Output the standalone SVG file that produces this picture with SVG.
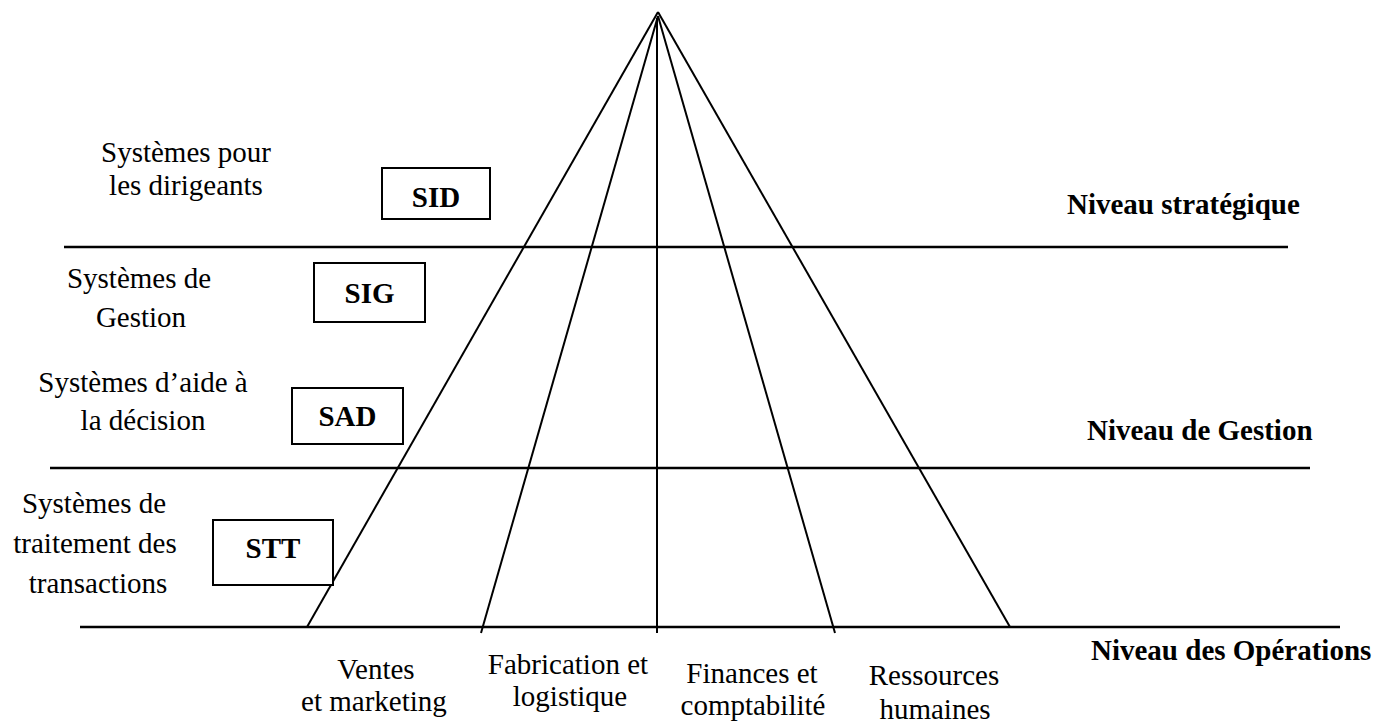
<svg xmlns="http://www.w3.org/2000/svg" width="1378" height="726" viewBox="0 0 1378 726">
<style>
.t{font-family:"Liberation Serif","Times New Roman",serif;font-size:29px;fill:#000;text-anchor:middle}
.b{font-family:"Liberation Serif","Times New Roman",serif;font-size:29px;font-weight:bold;fill:#000}
.bx{fill:#fff;stroke:#000;stroke-width:2}
.ln{stroke:#000;stroke-width:2;fill:none}
.hl{stroke:#000;stroke-width:2.5;fill:none}
</style>
<rect width="1378" height="726" fill="#fff"/>
<g id="connectors">
<line class="hl" x1="64" y1="247" x2="1288" y2="247"/>
<line class="hl" x1="50" y1="468" x2="1310" y2="468"/>
<line class="hl" x1="80" y1="627" x2="1340" y2="627"/>
<line class="ln" x1="658" y1="12" x2="307" y2="627"/>
<line class="ln" x1="658" y1="16" x2="481" y2="633"/>
<line class="ln" x1="657" y1="18" x2="657" y2="633"/>
<line class="ln" x1="658" y1="16" x2="835" y2="633"/>
<line class="ln" x1="658" y1="12" x2="1010" y2="627"/>
</g>
<g id="sid"><rect class="bx" x="382" y="168" width="108" height="51"/><text class="b" x="436" y="207" text-anchor="middle">SID</text></g>
<g id="sig"><rect class="bx" x="314" y="263" width="111" height="59"/><text class="b" x="369.5" y="303" text-anchor="middle">SIG</text></g>
<g id="sad"><rect class="bx" x="292" y="388" width="111" height="56"/><text class="b" x="347.5" y="426" text-anchor="middle">SAD</text></g>
<g id="stt"><rect class="bx" x="213" y="520" width="120" height="65"/><text class="b" x="273" y="558" text-anchor="middle">STT</text></g>
<g id="label-sid"><text class="t" x="186" y="162">Systèmes pour</text><text class="t" x="186" y="195">les dirigeants</text></g>
<g id="label-sig"><text class="t" x="139" y="288">Systèmes de</text><text class="t" x="141" y="327">Gestion</text></g>
<g id="label-sad"><text class="t" x="143" y="392">Systèmes d’aide à</text><text class="t" x="143" y="430">la décision</text></g>
<g id="label-stt"><text class="t" x="94" y="513">Systèmes de</text><text class="t" x="95" y="553">traitement des</text><text class="t" x="98" y="593">transactions</text></g>
<g id="levels">
<text class="b" x="1067" y="214">Niveau stratégique</text>
<text class="b" x="1087" y="440">Niveau de Gestion</text>
<text class="b" x="1091" y="660">Niveau des Opérations</text>
</g>
<g id="domains">
<text class="t" x="376" y="679">Ventes</text><text class="t" x="374" y="711">et marketing</text>
<text class="t" x="568" y="674">Fabrication et</text><text class="t" x="570" y="706">logistique</text>
<text class="t" x="752" y="683">Finances et</text><text class="t" x="753" y="715">comptabilité</text>
<text class="t" x="934" y="685">Ressources</text><text class="t" x="935" y="719">humaines</text>
</g>
</svg>
